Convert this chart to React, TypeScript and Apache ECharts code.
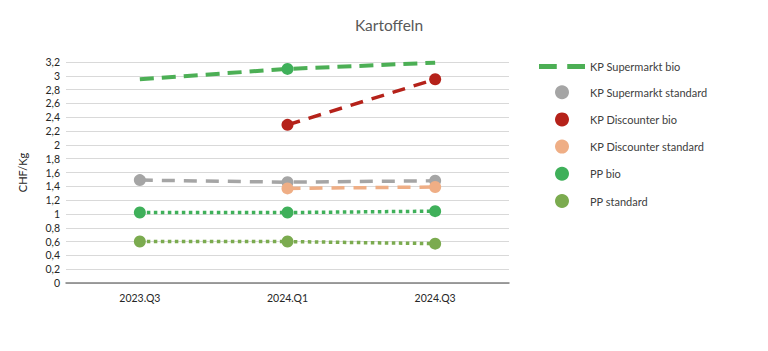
import React, { useEffect, useRef } from "react";
import * as echarts from "echarts";

const categories = ["2023.Q3", "2024.Q1", "2024.Q3"];
const kpSupermarktBio = [2.95, 3.1, 3.19];
const kpSupermarktStandard = [1.49, 1.46, 1.48];
const kpDiscounterBio = [null, 2.29, 2.95];
const kpDiscounterStandard = [null, 1.37, 1.39];
const ppBio = [1.02, 1.02, 1.04];
const ppStandard = [0.6, 0.6, 0.57];
const yTicks = [0, 0.2, 0.4, 0.6, 0.8, 1, 1.2, 1.4, 1.6, 1.8, 2, 2.2, 2.4, 2.6, 2.8, 3, 3.2];

const FONT = "Lato, 'Open Sans', sans-serif";

export default function App() {
  const ref = useRef<HTMLDivElement>(null);
  useEffect(() => {
    if (!ref.current) return;
    const chart = echarts.init(ref.current, null, { renderer: "svg" });
    const dashedLegend = "path://M0,0 h17 v5 h-17 z M27,0 h17 v5 h-17 z";
    const seriesDefs = [
      { name: "KP Supermarkt bio", data: kpSupermarktBio, color: "#4caf55", type: [14, 8], width: 4 },
      { name: "KP Supermarkt standard", data: kpSupermarktStandard, color: "#a5a5a5", type: [13, 9], width: 3.5 },
      { name: "KP Discounter bio", data: kpDiscounterBio, color: "#b5221a", type: [13, 9], width: 3.5 },
      { name: "KP Discounter standard", data: kpDiscounterStandard, color: "#efae85", type: [13, 9], width: 3.5 },
      { name: "PP bio", data: ppBio, color: "#3fb05a", type: [3.5, 3.5], width: 3.5 },
      { name: "PP standard", data: ppStandard, color: "#7bab4f", type: [3.5, 3.5], width: 3.5 },
    ];
    const series = seriesDefs.map((s, i) => ({
      name: s.name,
      type: "line",
      data:
        i === 0
          ? s.data.map((v, j) => (j === 1 ? { value: v, itemStyle: { color: "#3fb05a" } } : { value: v, symbol: "none" }))
          : s.data,
      symbol: "circle",
      symbolSize: 12,
      showSymbol: true,
      connectNulls: false,
      itemStyle: { color: s.color },
      lineStyle: { color: s.color, width: s.width, type: s.type as any, cap: "butt" },
      z: 2 + i,
    }));
    chart.setOption({
      animation: false,
      backgroundColor: "#ffffff",
      title: {
        text: "Kartoffeln",
        left: 384,
        top: 12,
        textAlign: "center",
        textStyle: { fontFamily: FONT, fontSize: 15.5, fontWeight: "normal", color: "#595959" },
      },
      legend: {
        orient: "vertical",
        left: 539,
        top: 61,
        padding: 0,
        itemWidth: 46,
        itemHeight: 14,
        itemGap: 13.2,
        selectedMode: false,
        textStyle: { fontFamily: FONT, fontSize: 11, color: "#404040" },
        data: seriesDefs.map((s, i) =>
          i === 0 ? { name: s.name, icon: dashedLegend } : { name: s.name, icon: "circle" }
        ),
      },
      grid: { left: 66, right: 259, top: 62, bottom: 68, containLabel: false },
      xAxis: {
        type: "category",
        data: categories,
        boundaryGap: true,
        axisLine: { show: true, lineStyle: { color: "#808080", width: 1.5 } },
        axisTick: { show: false },
        axisLabel: { fontFamily: FONT, fontSize: 10.5, color: "#262626", margin: 9 },
      },
      yAxis: {
        type: "value",
        min: 0,
        max: 3.2,
        interval: 0.2,
        name: "CHF/Kg",
        nameLocation: "middle",
        nameRotate: 90,
        nameGap: 38,
        nameTextStyle: { fontFamily: FONT, fontSize: 11, color: "#262626" },
        axisLine: { show: false },
        axisTick: { show: false },
        splitLine: { lineStyle: { color: "#d9d9d9", width: 1 } },
        axisLabel: {
          fontFamily: FONT,
          fontSize: 10.5,
          color: "#262626",
          margin: 6,
          formatter: (v: number) => {
            const t = yTicks.find((x) => Math.abs(x - v) < 1e-6);
            const val = t !== undefined ? t : v;
            return String(Math.round(val * 10) / 10).replace(".", ",");
          },
        },
      },
      series,
    });
    return () => chart.dispose();
  }, []);
  return <div ref={ref} style={{ width: 768, height: 351, position: "absolute", left: 0, top: 0 }} />;
}
